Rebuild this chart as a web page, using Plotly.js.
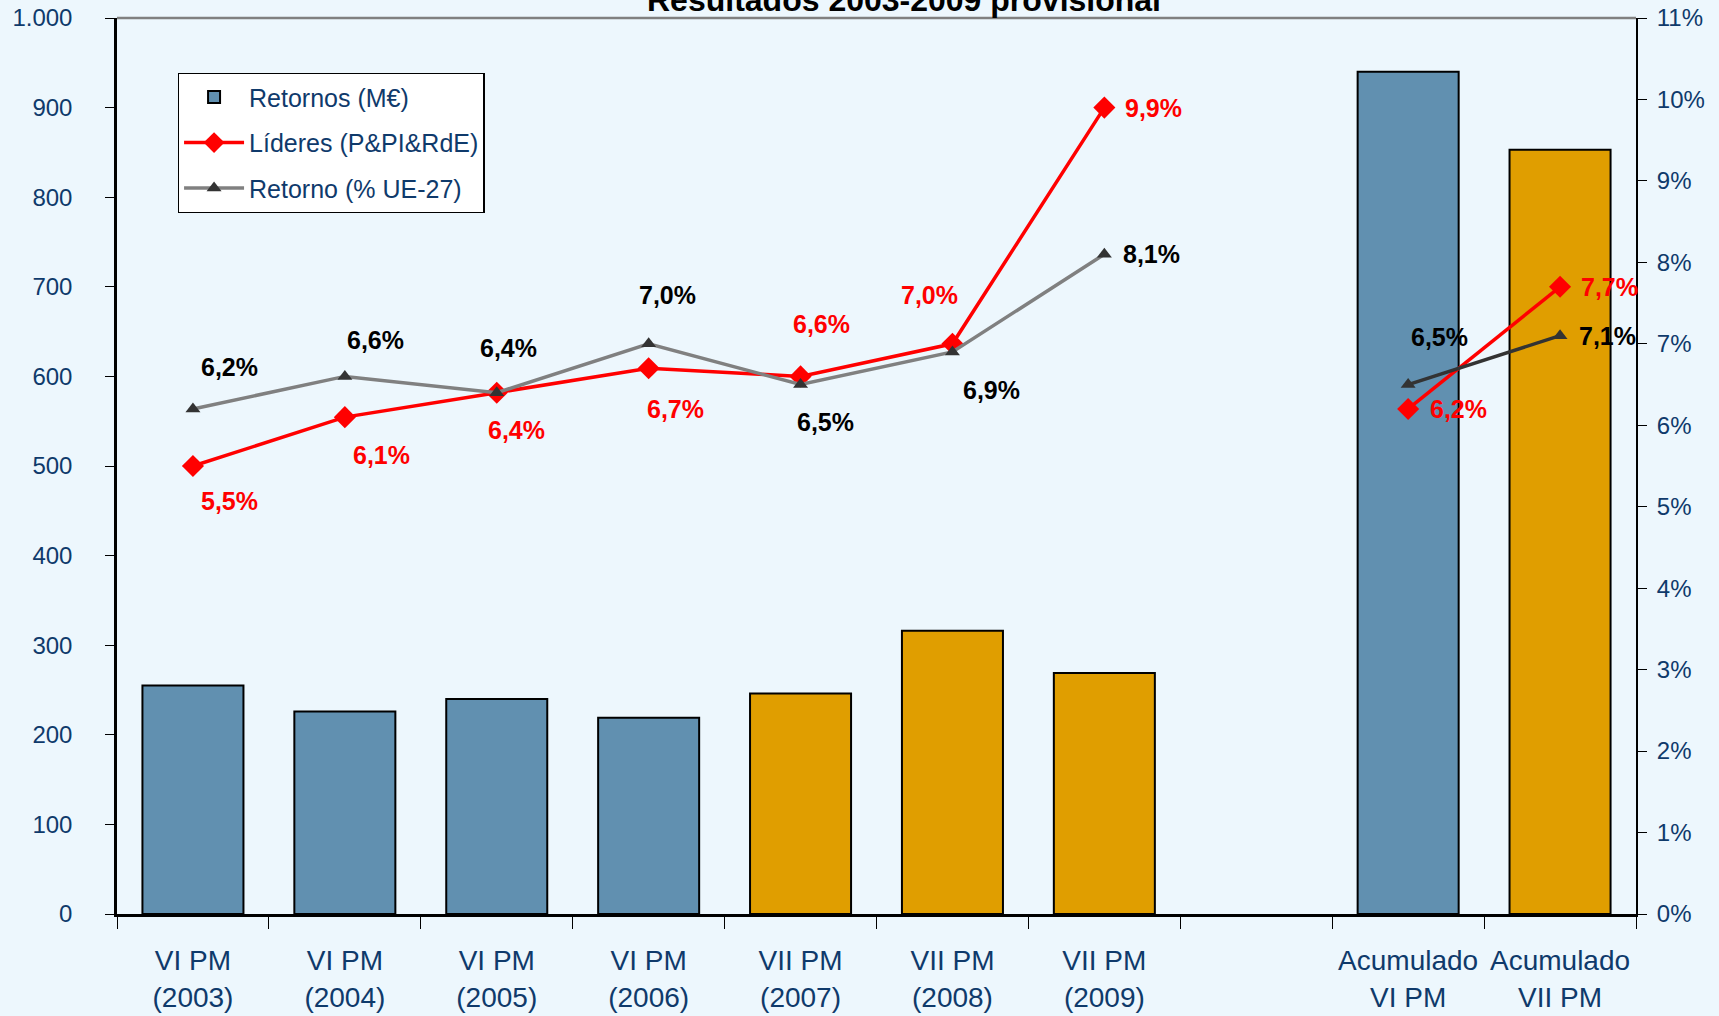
<!DOCTYPE html>
<html>
<head>
<meta charset="utf-8">
<script src="https://cdn.plot.ly/plotly-3.0.1.min.js"></script>
<style>html,body{margin:0;padding:0;background:#EDF7FD;}#chart{width:1719px;height:1016px;}</style>
</head>
<body>
<div id="chart"></div>
<script>
// ---- data ----
const categories = ['VI PM<br>(2003)','VI PM<br>(2004)','VI PM<br>(2005)','VI PM<br>(2006)','VII PM<br>(2007)','VII PM<br>(2008)','VII PM<br>(2009)',' ','Acumulado<br>VI PM','Acumulado<br>VII PM'];
const programme = ['VI','VI','VI','VI','VII','VII','VII',null,'VI','VII'];
const retornosMEUR = [255, 226, 240, 219, 246, 316, 269, null, 940, 853];
const lideresPct = [5.5, 6.1, 6.4, 6.7, 6.6, 7.0, 9.9, null, 6.2, 7.7];
const retornoUEPct = [6.2, 6.6, 6.4, 7.0, 6.5, 6.9, 8.1, null, 6.5, 7.1];
const yearCount = 7;

// label offsets (pixels) for value annotations
const retornoShift = [[37,42],[31,36],[12,45],[19,49],[25,-37],[39,-38],[47,0],null,[31,48],[47,0]];
const lideresShift = [[37,-35],[37,-38],[20,-37],[27,-41],[21,52],[-23,49],[49,0],null,[50,0],[49,0]];

const NAVY = '#0F3A6B';
const FONT = 'Liberation Sans, Arial, sans-serif';
const colorOf = p => p === 'VII' ? '#E09E00' : '#6190B0';

const yearsX = categories.slice(0, yearCount);
const accX = categories.slice(yearCount + 1);

const traces = [
  {
    type: 'bar', name: 'Retornos (M€)', x: categories, y: retornosMEUR,
    marker: {color: programme.map(colorOf), line: {color: '#000', width: 2}},
    legendgroup: 'a', hoverinfo: 'y'
  },
  {
    type: 'scatter', mode: 'lines+markers', name: 'Líderes (P&PI&RdE)',
    x: yearsX, y: lideresPct.slice(0, yearCount), yaxis: 'y2',
    line: {color: '#FF0000', width: 3.5}, marker: {symbol: 'diamond', size: 17, color: '#FF0000'},
    legendgroup: 'b'
  },
  {
    type: 'scatter', mode: 'lines+markers', name: 'Líderes acum', showlegend: false,
    x: accX, y: lideresPct.slice(yearCount + 1), yaxis: 'y2',
    line: {color: '#FF0000', width: 3.5}, marker: {symbol: 'diamond', size: 17, color: '#FF0000'},
    legendgroup: 'b'
  },
  {
    type: 'scatter', mode: 'lines+markers', name: 'Retorno (% UE-27)',
    x: yearsX, y: retornoUEPct.slice(0, yearCount), yaxis: 'y2',
    line: {color: '#808080', width: 3.5}, marker: {symbol: 'triangle-up', size: 13, color: '#333333'},
    legendgroup: 'c'
  },
  {
    type: 'scatter', mode: 'lines+markers', name: 'Retorno acum', showlegend: false,
    x: accX, y: retornoUEPct.slice(yearCount + 1), yaxis: 'y2',
    line: {color: '#333333', width: 3.5}, marker: {symbol: 'triangle-up', size: 13, color: '#333333'},
    legendgroup: 'c'
  }
];

const fmt = v => v.toFixed(1).replace('.', ',') + '%';
const annotations = [];
categories.forEach((c, i) => {
  if (retornoUEPct[i] != null) {
    annotations.push({x: c, y: retornoUEPct[i], xref: 'x', yref: 'y2', text: fmt(retornoUEPct[i]),
      showarrow: false, xshift: retornoShift[i][0], yshift: retornoShift[i][1],
      font: {family: FONT, size: 25, color: '#000', weight: 'bold'}});
  }
  if (lideresPct[i] != null) {
    annotations.push({x: c, y: lideresPct[i], xref: 'x', yref: 'y2', text: fmt(lideresPct[i]),
      showarrow: false, xshift: lideresShift[i][0], yshift: lideresShift[i][1],
      font: {family: FONT, size: 25, color: '#FF0000', weight: 'bold'}});
  }
});

const layout = {
  width: 1719, height: 1016,
  paper_bgcolor: '#EDF7FD', plot_bgcolor: '#EDF7FD',
  margin: {l: 117, r: 83, t: 18, b: 102},
  separators: ',.',
  title: {text: '<b>Resultados 2003-2009 provisional</b>', x: 904/1719, xanchor: 'center', xref: 'container',
    y: 1.0, yanchor: 'middle', yref: 'container', font: {family: FONT, size: 32, color: '#000'}},
  font: {family: FONT, size: 24, color: NAVY},
  bargap: 0.335,
  showlegend: true,
  legend: {x: 0.040, y: 0.9386, xanchor: 'left', yanchor: 'top', bgcolor: '#FFFFFF', bordercolor: '#000',
    borderwidth: 1.3, font: {family: FONT, size: 25, color: NAVY}, traceorder: 'grouped', tracegroupgap: 10,
    itemwidth: 60},
  xaxis: {type: 'category', categoryarray: categories, categoryorder: 'array', range: [-0.5, 9.5],
    tickson: 'boundaries', ticks: 'outside', ticklen: 12, tickwidth: 1, tickcolor: '#000',
    showline: true, linecolor: '#000', linewidth: 2.5, showgrid: false, zeroline: false,
    tickfont: {family: FONT, size: 28, color: NAVY}, ticklabelstandoff: 20, fixedrange: true},
  yaxis: {range: [0, 1000], dtick: 100, tick0: 0, separatethousands: true, ticks: 'outside', ticklen: 9,
    tickcolor: '#000', showline: true, linecolor: '#000', linewidth: 2.5, showgrid: false, zeroline: false,
    tickfont: {family: FONT, size: 24, color: NAVY}, ticklabelstandoff: 28},
  yaxis2: {overlaying: 'y', side: 'right', range: [0, 11], dtick: 1, tick0: 0, ticksuffix: '%',
    ticks: 'outside', ticklen: 9, tickcolor: '#000', showline: true, linecolor: '#000', linewidth: 2,
    showgrid: false, zeroline: false, tickfont: {family: FONT, size: 24, color: NAVY}, ticklabelstandoff: 5},
  shapes: [{type: 'line', xref: 'paper', yref: 'paper', x0: 0, x1: 1, y0: 1, y1: 1,
    line: {color: '#808080', width: 2.5}}],
  annotations: annotations
};

Plotly.newPlot('chart', traces, layout, {displayModeBar: false, responsive: false});
</script>
</body>
</html>
